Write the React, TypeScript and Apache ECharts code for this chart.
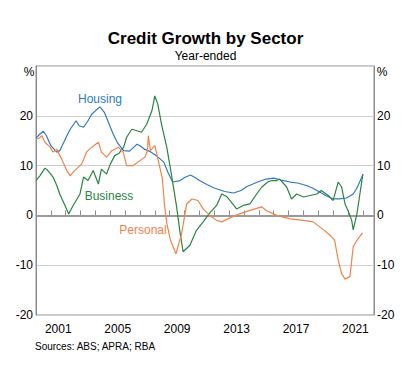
import React, { useEffect, useRef } from "react";
import * as echarts from "echarts";

const yearMin = 2000;
const yearMax = 2022.75;
const labelYears = [2001, 2005, 2009, 2013, 2017, 2021];
const yTicks = [-20, -10, 0, 10, 20];

const housing: [number, number][] = [
  [2000.0, 15.5], [2000.25, 16.3], [2000.5, 16.9], [2000.7, 16], [2001.0, 14], [2001.4, 12.7], [2001.6, 13],
  [2002.0, 15.5], [2002.3, 17.3], [2002.7, 19], [2002.9, 18], [2003.2, 17.7], [2003.5, 19], [2003.75, 20.3],
  [2004.0, 21], [2004.3, 21.8], [2004.6, 20.7], [2004.9, 18.5], [2005.2, 16.3], [2005.5, 14.5], [2005.9, 13],
  [2006.3, 12.9], [2006.8, 14.3], [2007.0, 14], [2007.3, 13.3], [2007.7, 12.8], [2008.1, 12], [2008.6, 10.7],
  [2008.9, 8.5], [2009.2, 6.7], [2009.7, 7], [2010.0, 7.6], [2010.4, 8.1], [2010.7, 7.6], [2011.0, 7],
  [2011.5, 6.2], [2012.0, 5.5], [2012.7, 4.8], [2013.3, 4.5], [2013.8, 5], [2014.2, 5.8], [2014.6, 6.3],
  [2015.0, 6.8], [2015.5, 7.3], [2016.0, 7.5], [2016.5, 7.1], [2017.1, 6.7], [2017.6, 6.5], [2018.2, 6],
  [2018.6, 5.5], [2019.1, 4.7], [2019.5, 4], [2020.0, 3.3], [2020.4, 3.3], [2020.9, 3.5], [2021.35, 4.3],
  [2021.6, 5.5], [2021.8, 6.8], [2022.0, 8.2],
];

const business: [number, number][] = [
  [2000.0, 7], [2000.27, 8], [2000.6, 9.5], [2000.8, 9], [2001.15, 7.7], [2001.4, 6], [2001.6, 4.3],
  [2001.95, 2], [2002.2, 0.3], [2002.5, 2], [2002.8, 3.5], [2002.96, 4.3], [2003.2, 7.7], [2003.5, 7],
  [2003.85, 9], [2004.2, 6.3], [2004.4, 9.3], [2004.75, 8.3], [2005.0, 10.3], [2005.3, 12], [2005.6, 12.5],
  [2005.9, 13.7], [2006.1, 15.7], [2006.45, 17.3], [2006.8, 17], [2007.1, 16.7], [2007.45, 18.3],
  [2007.8, 21], [2008.0, 24], [2008.2, 22.3], [2008.45, 18.3], [2008.8, 13.7], [2009.1, 8.5], [2009.45, 2],
  [2009.7, -3.5], [2009.9, -7.3], [2010.36, -6], [2010.8, -3], [2011.25, -1.3], [2011.7, 0.5], [2012.16, 2],
  [2012.5, 4.3], [2012.83, 3.8], [2013.05, 3], [2013.5, 1.3], [2013.95, 2], [2014.4, 2.3], [2014.85, 4.3],
  [2015.2, 5.7], [2015.6, 6.7], [2015.86, 7], [2016.2, 7], [2016.4, 7.3], [2016.87, 5.7], [2017.2, 3.3],
  [2017.55, 4.3], [2018.0, 3.7], [2018.44, 4], [2018.9, 4.3], [2019.2, 5], [2019.67, 4], [2020.0, 3],
  [2020.34, 6.7], [2020.57, 5.7], [2020.8, 2.3], [2021.0, 1], [2021.25, -1], [2021.35, -2.9], [2021.6, 0.3],
  [2021.8, 4.3], [2022.0, 8.3],
];

const personal: [number, number][] = [
  [2000.0, 15.3], [2000.2, 15.5], [2000.4, 16], [2000.6, 14.7], [2000.95, 13.7], [2001.16, 12.7],
  [2001.4, 13.3], [2001.73, 11.3], [2002.07, 9], [2002.3, 8], [2002.6, 9], [2003.07, 10.3], [2003.4, 12.7],
  [2003.75, 13.7], [2004.2, 14.7], [2004.4, 12.7], [2004.75, 11.7], [2005.1, 13], [2005.54, 13.7],
  [2005.87, 12.7], [2006.1, 10], [2006.55, 10], [2007.0, 11], [2007.33, 11.7], [2007.5, 13], [2007.56, 16],
  [2007.7, 13], [2008.0, 14], [2008.23, 11], [2008.5, 7.5], [2008.65, 2], [2008.8, -1.5], [2009.05, -5],
  [2009.42, -7.7], [2009.8, -3.7], [2010.14, 2.3], [2010.5, 3.3], [2010.9, 3], [2011.25, 1.3], [2011.7, 0],
  [2012.16, -1], [2012.5, -1.3], [2013.05, -0.5], [2013.7, 0.3], [2014.4, 1], [2015.2, 1.7], [2015.5, 1],
  [2016.2, 0], [2017.1, -0.7], [2018.0, -1], [2018.66, -1.3], [2019.1, -2.3], [2019.8, -4], [2020.1, -5],
  [2020.34, -9], [2020.57, -11.7], [2020.8, -12.8], [2021.13, -12.3], [2021.35, -6.3], [2021.6, -5],
  [2021.8, -4.2], [2021.98, -3.5],
];

const FONT = "Arial, 'Liberation Sans', sans-serif";
const BLUE = "#2f7abf";
const GREEN = "#2a8444";
const ORANGE = "#f2834a";
const AXIS = "#8c8c8c";

export default function App() {
  const ref = useRef<HTMLDivElement>(null);
  useEffect(() => {
    if (!ref.current) return;
    const chart = echarts.init(ref.current, null, { renderer: "svg" });
    const lineSeries = (name: string, data: [number, number][], color: string, extra: any = {}) => ({
      name,
      type: "line",
      data,
      xAxisIndex: 0,
      yAxisIndex: 0,
      showSymbol: false,
      symbol: "none",
      lineStyle: { color, width: 1.2 },
      z: 3,
      ...extra,
    });
    const txt = (text: string, x: number, y: number, font: string, fill: string, align = "center") => ({
      type: "text",
      x,
      y,
      style: { text, font, fill, align, verticalAlign: "middle", textAlign: align, textVerticalAlign: "middle" },
    });
    chart.setOption({
      animation: false,
      textStyle: { fontFamily: FONT },
      grid: {
        left: 36,
        right: 37,
        top: 66,
        bottom: 53,
        show: true,
        borderColor: AXIS,
        borderWidth: 1,
        backgroundColor: "transparent",
      },
      xAxis: [
        {
          type: "value",
          min: yearMin,
          max: yearMax,
          interval: 1,
          position: "bottom",
          axisLine: { show: true, lineStyle: { color: AXIS, width: 1 } },
          axisTick: { show: true, inside: true, length: 5, lineStyle: { color: AXIS } },
          axisLabel: { show: false },
          splitLine: { show: false },
        },
        {
          type: "value",
          min: yearMin,
          max: yearMax,
          interval: 0.5,
          position: "bottom",
          axisLine: { show: false },
          axisTick: { show: false },
          splitLine: { show: false },
          axisLabel: {
            show: true,
            color: "#000",
            fontSize: 12,
            fontFamily: FONT,
            margin: 8,
            formatter: (v: number) => {
              const y = v - 0.5;
              return labelYears.some((l) => Math.abs(l - y) < 1e-6) ? String(Math.round(y)) : "";
            },
          },
        },
      ],
      yAxis: [
        {
          type: "value",
          min: -20,
          max: 30,
          interval: 10,
          position: "left",
          axisLine: { show: true, lineStyle: { color: AXIS } },
          axisTick: { show: false },
          splitLine: { show: true, lineStyle: { color: "#d0d0d0", width: 1 } },
          axisLabel: {
            color: "#000",
            fontSize: 12,
            fontFamily: FONT,
            margin: 3,
            formatter: (v: number) => (yTicks.includes(v) ? String(v) : ""),
          },
        },
        {
          type: "value",
          min: -20,
          max: 30,
          interval: 10,
          position: "right",
          axisLine: { show: true, lineStyle: { color: AXIS } },
          axisTick: { show: false },
          splitLine: { show: false },
          axisLabel: {
            color: "#000",
            fontSize: 12,
            fontFamily: FONT,
            margin: 3,
            formatter: (v: number) => (yTicks.includes(v) ? String(v) : ""),
          },
        },
      ],
      series: [
        lineSeries("Housing", housing, BLUE, {
          markLine: {
            silent: true,
            symbol: "none",
            label: { show: false },
            lineStyle: { color: "#9a9a9a", width: 2, type: "solid" },
            data: [{ yAxis: 0 }],
            z: 1,
          },
        }),
        lineSeries("Business", business, GREEN),
        lineSeries("Personal", personal, ORANGE),
      ],
      graphic: [
        txt("Credit Growth by Sector", 205.5, 38, `bold 17px ${FONT}`, "#000"),
        txt("Year-ended", 205.5, 56, `12px ${FONT}`, "#000"),
        txt("%", 29, 72, `12px ${FONT}`, "#000"),
        txt("%", 382, 72, `12px ${FONT}`, "#000"),
        txt("Housing", 100, 99, `12px ${FONT}`, BLUE),
        txt("Business", 109, 196, `12px ${FONT}`, GREEN),
        txt("Personal", 143, 230, `12px ${FONT}`, ORANGE),
        txt("Sources: ABS; APRA; RBA", 35, 346, `10px ${FONT}`, "#000", "left"),
      ],
    });
    return () => chart.dispose();
  }, []);
  return (
    <div
      ref={ref}
      style={{ position: "fixed", left: 0, top: 0, width: 411, height: 368, background: "#fff" }}
    />
  );
}
